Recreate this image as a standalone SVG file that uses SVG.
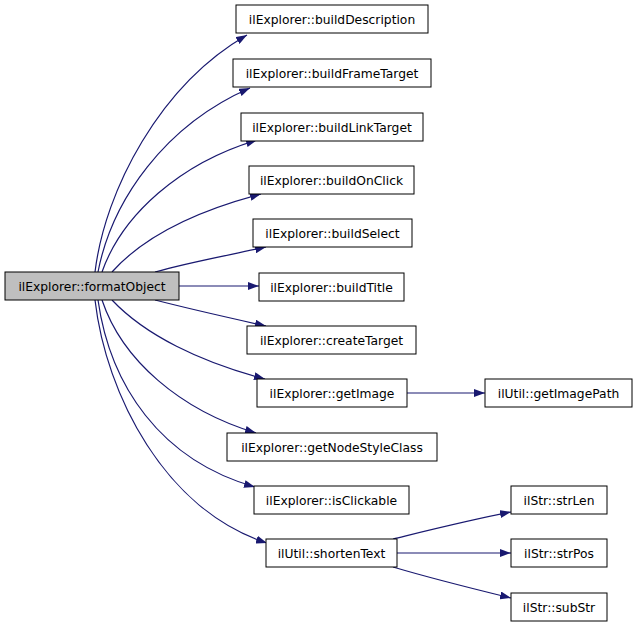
<svg xmlns="http://www.w3.org/2000/svg" width="637" height="627" viewBox="0 0 637 627">
<defs>
<style>
.n rect{fill:#fff;stroke:#000;stroke-width:1}
.n.cur rect{fill:#bfbfbf}
.n text{font-family:"DejaVu Sans",sans-serif;font-size:12.3px;text-anchor:middle;fill:#000}
.e path{fill:none;stroke:#191970;stroke-width:1.2;marker-end:url(#ah)}
</style>
<marker id="ah" viewBox="0 0 11 8" refX="11" refY="4" markerWidth="11" markerHeight="8" markerUnits="userSpaceOnUse" orient="auto">
<path d="M0,0 L11,4 L0,8 Z" fill="#191970"/>
</marker>
</defs>
<rect width="637" height="627" fill="#fff"/>
<g id="edges" class="e">
<path d="M95,272 C105,190 160,85 247,35"/>
<path d="M98,272 C112,200 165,125 250,88"/>
<path d="M102,272 C122,215 180,163 257,140"/>
<path d="M112,272 C145,235 200,210 261,194"/>
<path d="M155,272 C190,262 230,255 266,247"/>
<path d="M179,286 L259,286"/>
<path d="M155,300 C190,309 230,318 266,326"/>
<path d="M112,300 C145,335 200,362 265,379"/>
<path d="M102,300 C122,360 180,410 256,433"/>
<path d="M98,300 C110,385 160,460 255,487"/>
<path d="M95,300 C106,395 165,510 267,543"/>
<path d="M407,393 L485,393"/>
<path d="M393,539 C430,530 470,520 511,512"/>
<path d="M397,553 L511,553"/>
<path d="M393,567 C430,578 470,588 511,598"/>
</g>
<g id="formatObject" class="n cur"><rect x="5" y="272" width="174" height="28"/><text x="92" y="290.5">ilExplorer::formatObject</text></g>
<g id="buildDescription" class="n"><rect x="236" y="5" width="192" height="28"/><text x="332" y="23.5">ilExplorer::buildDescription</text></g>
<g id="buildFrameTarget" class="n"><rect x="233" y="59" width="198" height="28"/><text x="332" y="77.5">ilExplorer::buildFrameTarget</text></g>
<g id="buildLinkTarget" class="n"><rect x="241" y="113" width="182" height="28"/><text x="332" y="131.5">ilExplorer::buildLinkTarget</text></g>
<g id="buildOnClick" class="n"><rect x="249" y="166" width="165" height="28"/><text x="331.5" y="184.5">ilExplorer::buildOnClick</text></g>
<g id="buildSelect" class="n"><rect x="253" y="219" width="159" height="28"/><text x="332.5" y="237.5">ilExplorer::buildSelect</text></g>
<g id="buildTitle" class="n"><rect x="259" y="273" width="145" height="28"/><text x="331.5" y="291.5">ilExplorer::buildTitle</text></g>
<g id="createTarget" class="n"><rect x="247" y="326" width="169" height="28"/><text x="331.5" y="344.5">ilExplorer::createTarget</text></g>
<g id="getImage" class="n"><rect x="257" y="379" width="150" height="28"/><text x="332" y="397.5">ilExplorer::getImage</text></g>
<g id="getNodeStyleClass" class="n"><rect x="227" y="433" width="210" height="28"/><text x="332" y="451.5">ilExplorer::getNodeStyleClass</text></g>
<g id="isClickable" class="n"><rect x="254" y="486" width="155" height="28"/><text x="331.5" y="504.5">ilExplorer::isClickable</text></g>
<g id="shortenText" class="n"><rect x="266" y="539" width="131" height="28"/><text x="331.5" y="557.5">ilUtil::shortenText</text></g>
<g id="getImagePath" class="n"><rect x="485" y="379" width="147" height="28"/><text x="558.5" y="397.5">ilUtil::getImagePath</text></g>
<g id="strLen" class="n"><rect x="511" y="486" width="96" height="28"/><text x="559" y="504.5">ilStr::strLen</text></g>
<g id="strPos" class="n"><rect x="511" y="539" width="96" height="28"/><text x="559" y="557.5">ilStr::strPos</text></g>
<g id="subStr" class="n"><rect x="511" y="593" width="96" height="28"/><text x="559" y="611.5">ilStr::subStr</text></g>
</svg>
